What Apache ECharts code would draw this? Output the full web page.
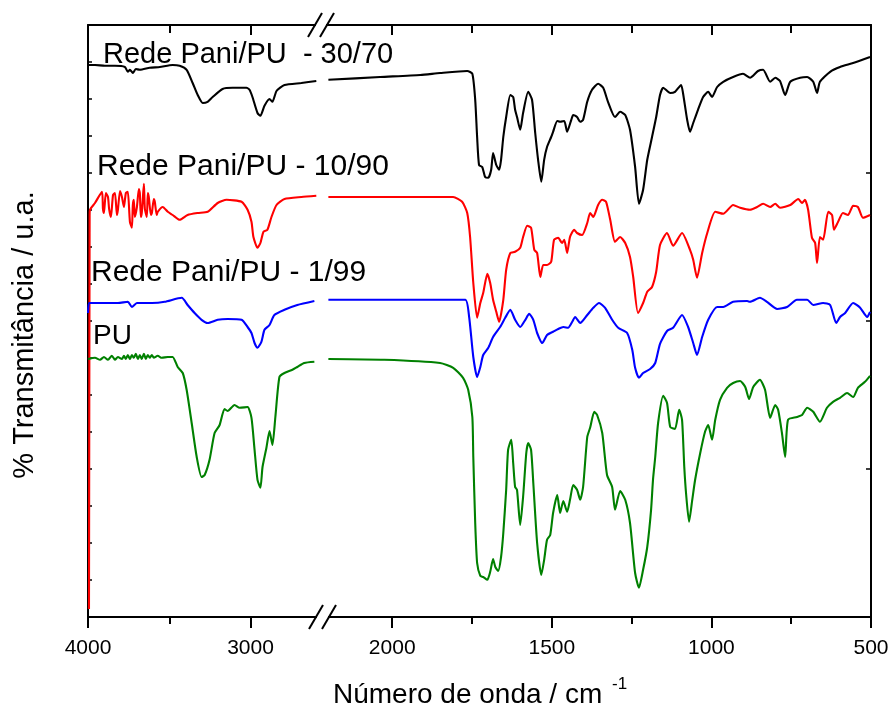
<!DOCTYPE html>
<html>
<head>
<meta charset="utf-8">
<script src="https://cdn.jsdelivr.net/npm/echarts@6/dist/echarts.min.js"></script>
<style>html,body{margin:0;padding:0;background:#fff}#c{width:892px;height:713px}</style>
</head>
<body>
<div id="c"></div>
<script>
// ---- axis ticks (wavenumber, cm-1) ----
const leftRange = [2560, 4000];
const rightRange = [500, 2220];
const leftMajor = [3000, 4000];
const leftMinor = [3500];
const rightMajor = [500, 1000, 1500, 2000];
const rightMinor = [750, 1250, 1750];

// ---- spectra [wavenumber, transmittance (a.u., offset)] ----
const s3070Left = [[4000,138],[3957,138],[3896,137.8],[3834,137.8],[3773,137.5],[3755,136.3],[3742,136.8],[3724,136],[3706,137],[3681,136.8],[3620,137.3],[3558,137.5],[3479,138],[3436,137.8],[3393,136.8],[3356,133.5],[3325,130.5],[3294,128.5],[3264,128.8],[3233,130],[3172,132],[3110,132.3],[3025,132.3],[3006,131.8],[2988,130],[2957,126],[2939,125.3],[2914,127.8],[2883,129.5],[2865,128.8],[2840,131.5],[2791,133],[2687,133.5],[2595,134]];
const s3070Right = [[2200,134.3],[2038,135],[1912,135.5],[1850,136],[1765,136.5],[1749,135.8],[1740,129.3],[1734,120],[1728,113],[1718,112.5],[1709,110],[1699,109.8],[1690,111.8],[1684,116],[1674,113],[1665,111.8],[1659,114.3],[1652,120],[1643,125],[1630,130.5],[1621,130],[1615,126.8],[1609,125],[1599,121.8],[1590,126],[1574,131.3],[1562,129.3],[1552,121],[1543,114.3],[1533,108.8],[1524,114.3],[1515,117.5],[1502,120],[1496,121.3],[1483,124],[1474,123.8],[1461,124],[1452,121.3],[1439,124.3],[1433,125.5],[1421,125],[1411,123.8],[1402,124.3],[1389,128.8],[1374,131.8],[1355,133.3],[1339,132.3],[1324,128.8],[1302,125],[1286,126.3],[1270,125.5],[1255,121.8],[1239,112.5],[1227,103.3],[1214,106.8],[1201,114.3],[1186,120],[1173,125],[1161,130.5],[1151,132.3],[1129,131],[1114,131.3],[1095,133],[1089,131],[1076,124.3],[1067,121.3],[1057,123.5],[1042,126.8],[1026,130],[1010,131.3],[998,130],[982,132.5],[963,133.8],[932,135],[901,135.8],[879,134.8],[854,136.5],[838,136.8],[816,133.8],[800,134.8],[785,134],[769,130.5],[753,133.8],[722,134.8],[700,135],[681,133.8],[669,131],[660,133.8],[628,136.3],[597,137.5],[556,138.5],[503,140]];

const s1090Left = [[3994,2],[3990,100.5],[3988,101.8],[3957,103.5],[3914,106.3],[3908,102],[3902,101],[3890,106],[3877,105],[3870,102],[3859,100],[3846,105.5],[3834,106],[3822,100.5],[3816,101.8],[3803,106.5],[3791,105],[3779,102.5],[3767,106],[3755,106.3],[3742,98.8],[3730,97.3],[3724,103],[3718,104.3],[3712,100],[3699,102.5],[3687,107],[3681,106],[3675,100],[3669,101],[3662,105],[3656,108.3],[3650,102],[3638,100],[3632,106],[3626,105],[3613,100.5],[3607,101],[3595,104.5],[3589,103.8],[3577,100.5],[3571,101.3],[3540,102.5],[3509,101.3],[3479,100.5],[3436,99.3],[3387,100.5],[3325,101],[3264,101.3],[3202,103.5],[3147,104.3],[3055,103.8],[3018,101.8],[2994,98.8],[2982,95],[2957,92.3],[2939,93.5],[2920,96.3],[2896,96.8],[2871,100],[2840,103],[2791,104.5],[2687,105],[2595,105.3]];
const s1090Right = [[2200,105],[1975,105],[1850,105],[1809,105],[1781,103.8],[1765,101],[1756,95],[1746,83.5],[1734,74.8],[1724,78.5],[1715,81],[1702,85.8],[1693,83.5],[1684,79.3],[1674,76.3],[1665,73.8],[1652,79.3],[1643,86.8],[1630,91],[1615,91.3],[1599,92.3],[1590,95],[1577,97.8],[1565,97.3],[1555,91.8],[1546,91],[1536,85],[1527,88],[1515,88],[1502,88.8],[1493,94.3],[1480,94.8],[1468,93.5],[1461,94.3],[1452,91],[1443,95],[1430,96.8],[1421,96],[1405,95.5],[1389,98.5],[1380,101],[1370,100],[1355,103],[1342,104.3],[1330,103.8],[1317,99.3],[1302,93.8],[1286,95],[1270,93.5],[1255,90],[1245,85],[1230,76],[1214,78.5],[1201,81.3],[1186,82.5],[1173,86.3],[1161,93],[1139,96],[1120,92.8],[1092,96],[1067,91.8],[1057,89.3],[1045,84.8],[1029,91],[1013,96],[988,101.3],[963,100.8],[932,103],[910,102.3],[879,101.8],[857,102.5],[838,103.3],[816,102.5],[800,103.3],[785,102.3],[753,103],[728,104.5],[716,103.5],[707,104.3],[697,101.8],[685,94.8],[675,93.5],[669,88.5],[660,95],[650,94.3],[634,101.3],[622,100.5],[616,96.8],[603,98.8],[588,101],[572,100.5],[556,102.8],[541,102.5],[525,99.8],[503,100.5]];

const s199Left = [[4000,76],[3994,78.5],[3975,78.5],[3816,78.5],[3755,78.8],[3730,77.5],[3699,78.5],[3607,78.5],[3528,78.8],[3423,79.8],[3387,78],[3344,76],[3301,74.3],[3264,73.5],[3202,74.3],[3141,74.5],[3055,74.3],[3018,72.5],[2994,71],[2975,68.5],[2957,67.3],[2933,68.8],[2914,71.8],[2883,73],[2853,75.5],[2791,76.8],[2712,78],[2607,79]];
const s199Right = [[2200,79.3],[1850,79.3],[1771,79.3],[1759,75],[1746,65],[1734,60],[1724,62.5],[1715,65.5],[1699,67.3],[1684,70],[1662,72.5],[1646,74.8],[1630,76.8],[1615,74.3],[1599,72.5],[1583,74.3],[1571,75.8],[1558,74.3],[1546,71],[1530,68.5],[1515,70.5],[1496,71.3],[1480,72],[1464,72.5],[1449,72.3],[1436,73.8],[1427,75],[1411,73.5],[1389,75.5],[1370,77.3],[1352,78.5],[1333,77.3],[1311,74.3],[1292,72.3],[1264,71],[1248,66.8],[1239,62.3],[1227,59.8],[1214,61],[1192,62],[1176,63.5],[1161,68.3],[1139,71.5],[1120,72.3],[1092,75.5],[1073,72.5],[1057,68.5],[1045,65.5],[1029,70],[1010,74.3],[982,77.5],[963,77.5],[932,78.8],[888,79],[879,78.8],[848,79.8],[826,78.8],[794,77],[763,77.5],[732,79.3],[700,79.3],[681,78],[650,78.5],[628,78],[609,73.5],[597,75],[581,76],[556,78.5],[534,77.3],[512,75],[503,76.3]];

const puLeft = [[4000,64.5],[3957,64.8],[3926,64.3],[3902,65],[3877,64.3],[3853,65.3],[3834,64.3],[3816,65],[3791,64.5],[3779,65.3],[3767,64.5],[3755,65.5],[3742,64.5],[3730,65.5],[3718,64.8],[3706,65.8],[3693,64.5],[3681,65.5],[3669,64.5],[3656,65.8],[3644,64.5],[3632,65.5],[3620,64.8],[3607,65.5],[3595,64.8],[3571,65.3],[3546,64.8],[3509,65],[3479,65],[3448,62.5],[3417,61],[3393,56.8],[3362,48.5],[3331,40],[3301,35],[3282,35.5],[3252,39.3],[3221,46],[3190,48],[3160,52],[3141,51.5],[3098,53],[3067,52.3],[3018,52.5],[2994,49.8],[2975,41.8],[2957,34.3],[2939,32.3],[2926,37.5],[2902,42.3],[2883,46.5],[2865,43],[2847,50],[2822,60],[2791,61],[2742,61.8],[2712,62.5],[2669,63.5],[2607,63.8]];
const puRight = [[2200,64.5],[2025,64.3],[1850,63.5],[1809,62.3],[1778,59.8],[1762,56.8],[1749,50],[1746,40],[1740,23.5],[1734,13.5],[1724,10.3],[1715,10],[1702,9.3],[1693,11.3],[1684,14.5],[1677,12.5],[1668,11.5],[1659,15],[1652,21],[1643,31.8],[1637,41.8],[1627,44.3],[1621,38.5],[1615,32.5],[1609,31.8],[1599,23],[1590,30],[1580,41],[1574,43.5],[1565,41.8],[1558,33.5],[1546,18.5],[1533,10.5],[1524,14.3],[1515,19.3],[1505,20.5],[1496,26],[1483,30.5],[1474,26],[1464,29],[1452,26.3],[1443,29.3],[1433,33],[1421,31.8],[1411,29.3],[1402,32.5],[1389,45],[1380,47.3],[1367,51.3],[1358,50.5],[1342,46],[1327,35.5],[1311,32.5],[1302,26.8],[1286,31.5],[1270,29.3],[1255,23.5],[1239,11],[1227,7.3],[1214,11.8],[1201,17.5],[1189,26.8],[1183,34.3],[1176,40],[1167,48.5],[1151,55.3],[1139,53.5],[1129,47.5],[1114,47],[1101,51.8],[1092,49.3],[1085,37.5],[1079,30.5],[1070,23.8],[1060,29.3],[1051,34.3],[1035,41],[1020,46.3],[1010,48],[998,44.3],[988,49.3],[973,54.3],[951,57.3],[932,58.5],[910,59],[894,57.5],[882,54.5],[869,57.5],[848,59.3],[832,56.8],[816,49.8],[800,53],[791,51.8],[779,46],[769,40],[760,49.3],[732,50],[716,50.5],[700,52.3],[681,51.3],[660,48.8],[638,52.3],[619,53.8],[597,54.8],[575,56],[556,55],[541,57.3],[519,58.8],[503,60.3]];

const seriesLabels = ['Rede Pani/PU  - 30/70', 'Rede Pani/PU - 10/90', 'Rede Pani/PU - 1/99', 'PU'];
const colors = ['#000000', '#ff0000', '#0000ff', '#008000'];
const xTitle = 'Número de onda / cm';
const yTitle = '% Transmitância / u.a.';

const FONT = '"Liberation Sans", Arial, Helvetica, sans-serif';
const chart = echarts.init(document.getElementById('c'), null, {renderer: 'canvas'});

const gridL = {left: 88, top: 25, width: 234, bottom: 96};
const gridR = {left: 322, top: 25, right: 21, bottom: 96};

function xAx(grid, range, pos, ticks, len, inside, labels, line) {
  return {
    type: 'value', gridIndex: grid, position: pos, inverse: true,
    min: range[0], max: range[1],
    axisLine: {show: line, lineStyle: {color: '#000', width: 2}},
    axisTick: {show: true, inside: inside, length: len, customValues: ticks, lineStyle: {color: '#000', width: 2}},
    axisLabel: labels ? {show: true, customValues: labels, color: '#000', fontSize: 21, fontFamily: FONT, margin: 21,
      formatter: v => String(v)} : {show: false},
    splitLine: {show: false}
  };
}
function yAx(grid, pos, interval, len, show) {
  return {
    type: 'value', gridIndex: grid, position: pos, min: 0, max: 148, interval: interval, show: show,
    axisLine: {show: true, lineStyle: {color: '#000', width: 2}},
    axisTick: {show: true, inside: true, length: len, lineStyle: {color: '#000', width: 1.5}},
    axisLabel: {show: false}, splitLine: {show: false}
  };
}

const spectra = [[s3070Left, s3070Right], [s1090Left, s1090Right], [s199Left, s199Right], [puLeft, puRight]];
const series = [];
spectra.forEach((pair, i) => {
  pair.forEach((d, j) => {
    series.push({
      type: 'line', xAxisIndex: j === 0 ? 0 : 2, yAxisIndex: j, data: d,
      showSymbol: false, smooth: 0.2, lineStyle: {color: colors[i], width: 2.1},
      itemStyle: {color: colors[i]}, animation: false, silent: true, z: 3
    });
  });
});

const labelPos = [[103, 55], [97, 167], [91, 273], [93, 336]];
const labelSize = [29, 30, 30, 28];
const graphic = [];
seriesLabels.forEach((t, i) => {
  graphic.push({type: 'text', x: labelPos[i][0], y: labelPos[i][1], z: 10,
    style: {text: t, fill: '#000', font: labelSize[i] + 'px ' + FONT, textAlign: 'left', textVerticalAlign: 'middle'}});
});
graphic.push({type: 'text', x: 333, y: 695, style: {text: xTitle, fill: '#000', font: '28px ' + FONT, textAlign: 'left', textVerticalAlign: 'middle'}});
graphic.push({type: 'text', x: 612, y: 684, style: {text: '-1', fill: '#000', font: '17px ' + FONT, textAlign: 'left', textVerticalAlign: 'middle'}});
graphic.push({type: 'text', x: 25, y: 335, rotation: Math.PI / 2, style: {text: yTitle, fill: '#000', font: '29px ' + FONT, textAlign: 'center', textVerticalAlign: 'middle'}});
// axis break marks
[[25, 315, 327], [617, 316, 329]].forEach(([y, a, b]) => {
  graphic.push({type: 'rect', z: 20, shape: {x: a + 1, y: y - 3, width: b - a - 2, height: 6}, style: {fill: '#fff'}});
  [a, b].forEach(cx => {
    graphic.push({type: 'line', z: 21, shape: {x1: cx - 7, y1: y + 12, x2: cx + 7, y2: y - 12}, style: {stroke: '#000', lineWidth: 2}});
  });
});

chart.setOption({
  backgroundColor: '#fff',
  animation: false,
  grid: [gridL, gridR, gridL, gridR].map(g => Object.assign({containLabel: false}, g)),
  xAxis: [
    xAx(0, leftRange, 'bottom', leftMajor, 11, false, leftMajor, true),
    xAx(0, leftRange, 'top', leftMajor, 10, true, null, true),
    xAx(1, rightRange, 'bottom', rightMajor, 11, false, rightMajor, true),
    xAx(1, rightRange, 'top', rightMajor, 10, true, null, true),
    xAx(2, leftRange, 'bottom', leftMinor, 7, false, null, false),
    xAx(2, leftRange, 'top', leftMinor, 8, true, null, false),
    xAx(3, rightRange, 'bottom', rightMinor, 7, false, null, false),
    xAx(3, rightRange, 'top', rightMinor, 8, true, null, false)
  ],
  yAxis: [
    yAx(0, 'left', 9.25, 4, true),
    yAx(1, 'right', 37, 5, true),
    yAx(2, 'left', 9.25, 4, false),
    yAx(3, 'right', 37, 5, false)
  ],
  series: series,
  graphic: graphic
});
</script>
</body>
</html>
